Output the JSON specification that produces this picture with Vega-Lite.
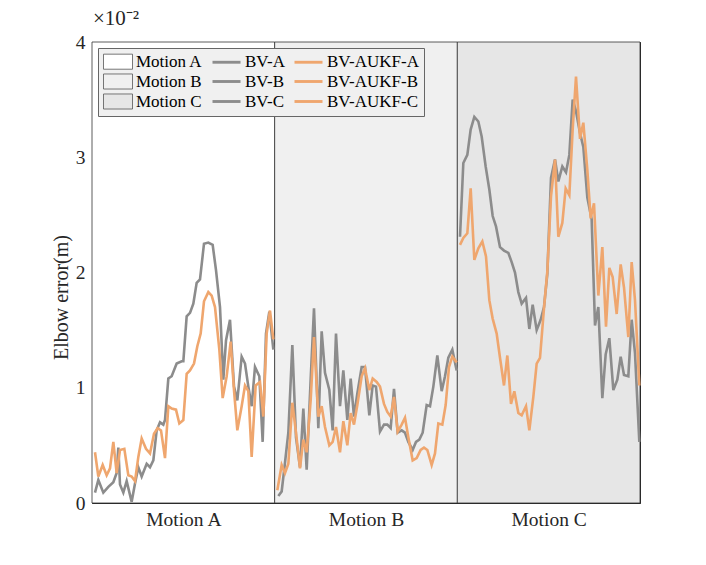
{
  "$schema": "https://vega.github.io/schema/vega-lite/v6.json",
  "width": 548,
  "height": 461,
  "autosize": {"type": "none"},
  "padding": {"left": 92, "top": 42, "right": 66, "bottom": 62},
  "background": "white",
  "title": {
    "text": "×10⁻²",
    "anchor": "start",
    "frame": "group",
    "font": "Liberation Serif",
    "fontSize": 21,
    "fontWeight": "normal",
    "color": "#262626",
    "offset": 3,
    "dx": 1
  },
  "config": {
    "font": "Liberation Serif",
    "view": {"stroke": null},
    "axis": {
      "domainColor": "#262626",
      "tickColor": "#262626",
      "tickSize": -5,
      "zindex": 1,
      "grid": false,
      "labelFont": "Liberation Serif",
      "labelFontSize": 19.5,
      "labelColor": "#262626",
      "labelPadding": 12,
      "titleFont": "Liberation Serif",
      "titleFontSize": 20,
      "titleFontWeight": "normal",
      "titleColor": "#262626"
    }
  },
  "datasets": {
    "regions": [
      {"start": 0, "end": 548, "series": "Motion A"},
      {"start": 548, "end": 1096, "series": "Motion B"},
      {"start": 1096, "end": 1644, "series": "Motion C"}
    ],
    "errors": [
      {"t": 9, "series": "BV-A", "value": 0.09}, {"t": 19, "series": "BV-A", "value": 0.2}, {"t": 34, "series": "BV-A", "value": 0.09},
      {"t": 49, "series": "BV-A", "value": 0.14}, {"t": 64, "series": "BV-A", "value": 0.18}, {"t": 74, "series": "BV-A", "value": 0.26},
      {"t": 79, "series": "BV-A", "value": 0.48}, {"t": 84, "series": "BV-A", "value": 0.16}, {"t": 94, "series": "BV-A", "value": 0.09},
      {"t": 104, "series": "BV-A", "value": 0.19}, {"t": 119, "series": "BV-A", "value": 0.01}, {"t": 129, "series": "BV-A", "value": 0.17},
      {"t": 139, "series": "BV-A", "value": 0.31}, {"t": 149, "series": "BV-A", "value": 0.23}, {"t": 164, "series": "BV-A", "value": 0.34},
      {"t": 174, "series": "BV-A", "value": 0.31}, {"t": 184, "series": "BV-A", "value": 0.37}, {"t": 194, "series": "BV-A", "value": 0.63},
      {"t": 204, "series": "BV-A", "value": 0.7}, {"t": 214, "series": "BV-A", "value": 0.68}, {"t": 219, "series": "BV-A", "value": 0.72},
      {"t": 229, "series": "BV-A", "value": 1.08}, {"t": 239, "series": "BV-A", "value": 1.1}, {"t": 254, "series": "BV-A", "value": 1.21},
      {"t": 269, "series": "BV-A", "value": 1.23}, {"t": 274, "series": "BV-A", "value": 1.23}, {"t": 284, "series": "BV-A", "value": 1.62},
      {"t": 294, "series": "BV-A", "value": 1.65}, {"t": 304, "series": "BV-A", "value": 1.73}, {"t": 314, "series": "BV-A", "value": 1.91},
      {"t": 324, "series": "BV-A", "value": 1.94}, {"t": 336, "series": "BV-A", "value": 2.25}, {"t": 349, "series": "BV-A", "value": 2.26},
      {"t": 362, "series": "BV-A", "value": 2.24}, {"t": 372, "series": "BV-A", "value": 2.02}, {"t": 384, "series": "BV-A", "value": 1.7},
      {"t": 394, "series": "BV-A", "value": 1.07}, {"t": 402, "series": "BV-A", "value": 1.41}, {"t": 414, "series": "BV-A", "value": 1.59},
      {"t": 426, "series": "BV-A", "value": 1.01}, {"t": 436, "series": "BV-A", "value": 0.89}, {"t": 449, "series": "BV-A", "value": 1.27},
      {"t": 459, "series": "BV-A", "value": 1.21}, {"t": 469, "series": "BV-A", "value": 1.01}, {"t": 479, "series": "BV-A", "value": 0.84},
      {"t": 489, "series": "BV-A", "value": 1.18}, {"t": 502, "series": "BV-A", "value": 1.1}, {"t": 512, "series": "BV-A", "value": 0.53},
      {"t": 522, "series": "BV-A", "value": 1.47}, {"t": 532, "series": "BV-A", "value": 1.66}, {"t": 544, "series": "BV-A", "value": 1.33},

      {"t": 9, "series": "BV-AUKF-A", "value": 0.44}, {"t": 19, "series": "BV-AUKF-A", "value": 0.23}, {"t": 32, "series": "BV-AUKF-A", "value": 0.33},
      {"t": 44, "series": "BV-AUKF-A", "value": 0.24}, {"t": 54, "series": "BV-AUKF-A", "value": 0.3}, {"t": 64, "series": "BV-AUKF-A", "value": 0.53},
      {"t": 74, "series": "BV-AUKF-A", "value": 0.26}, {"t": 84, "series": "BV-AUKF-A", "value": 0.46}, {"t": 97, "series": "BV-AUKF-A", "value": 0.47},
      {"t": 109, "series": "BV-AUKF-A", "value": 0.24}, {"t": 119, "series": "BV-AUKF-A", "value": 0.23}, {"t": 129, "series": "BV-AUKF-A", "value": 0.19},
      {"t": 139, "series": "BV-AUKF-A", "value": 0.4}, {"t": 149, "series": "BV-AUKF-A", "value": 0.56}, {"t": 162, "series": "BV-AUKF-A", "value": 0.47},
      {"t": 174, "series": "BV-AUKF-A", "value": 0.43}, {"t": 186, "series": "BV-AUKF-A", "value": 0.6}, {"t": 197, "series": "BV-AUKF-A", "value": 0.65},
      {"t": 207, "series": "BV-AUKF-A", "value": 0.63}, {"t": 219, "series": "BV-AUKF-A", "value": 0.39}, {"t": 229, "series": "BV-AUKF-A", "value": 0.84},
      {"t": 239, "series": "BV-AUKF-A", "value": 0.82}, {"t": 252, "series": "BV-AUKF-A", "value": 0.81}, {"t": 262, "series": "BV-AUKF-A", "value": 0.69},
      {"t": 274, "series": "BV-AUKF-A", "value": 0.72}, {"t": 284, "series": "BV-AUKF-A", "value": 1.12}, {"t": 294, "series": "BV-AUKF-A", "value": 1.15},
      {"t": 306, "series": "BV-AUKF-A", "value": 1.21}, {"t": 316, "series": "BV-AUKF-A", "value": 1.36}, {"t": 326, "series": "BV-AUKF-A", "value": 1.47},
      {"t": 336, "series": "BV-AUKF-A", "value": 1.75}, {"t": 349, "series": "BV-AUKF-A", "value": 1.83}, {"t": 359, "series": "BV-AUKF-A", "value": 1.8},
      {"t": 369, "series": "BV-AUKF-A", "value": 1.7}, {"t": 382, "series": "BV-AUKF-A", "value": 1.33}, {"t": 392, "series": "BV-AUKF-A", "value": 0.91},
      {"t": 404, "series": "BV-AUKF-A", "value": 1.1}, {"t": 416, "series": "BV-AUKF-A", "value": 1.4}, {"t": 426, "series": "BV-AUKF-A", "value": 0.98},
      {"t": 436, "series": "BV-AUKF-A", "value": 0.63}, {"t": 449, "series": "BV-AUKF-A", "value": 0.84}, {"t": 459, "series": "BV-AUKF-A", "value": 1.02},
      {"t": 469, "series": "BV-AUKF-A", "value": 0.97}, {"t": 479, "series": "BV-AUKF-A", "value": 0.4}, {"t": 491, "series": "BV-AUKF-A", "value": 1.02},
      {"t": 504, "series": "BV-AUKF-A", "value": 1.05}, {"t": 514, "series": "BV-AUKF-A", "value": 0.75}, {"t": 524, "series": "BV-AUKF-A", "value": 1.47},
      {"t": 534, "series": "BV-AUKF-A", "value": 1.67}, {"t": 544, "series": "BV-AUKF-A", "value": 1.42},

      {"t": 559, "series": "BV-B", "value": 0.06}, {"t": 569, "series": "BV-B", "value": 0.1}, {"t": 579, "series": "BV-B", "value": 0.35},
      {"t": 589, "series": "BV-B", "value": 0.61}, {"t": 601, "series": "BV-B", "value": 1.37}, {"t": 612, "series": "BV-B", "value": 0.57},
      {"t": 624, "series": "BV-B", "value": 0.31}, {"t": 634, "series": "BV-B", "value": 0.82}, {"t": 644, "series": "BV-B", "value": 0.29},
      {"t": 656, "series": "BV-B", "value": 1.07}, {"t": 666, "series": "BV-B", "value": 1.69}, {"t": 679, "series": "BV-B", "value": 0.65},
      {"t": 689, "series": "BV-B", "value": 1.49}, {"t": 699, "series": "BV-B", "value": 1.13}, {"t": 712, "series": "BV-B", "value": 0.98},
      {"t": 722, "series": "BV-B", "value": 0.63}, {"t": 732, "series": "BV-B", "value": 1.47}, {"t": 744, "series": "BV-B", "value": 0.84},
      {"t": 754, "series": "BV-B", "value": 1.15}, {"t": 766, "series": "BV-B", "value": 0.72}, {"t": 776, "series": "BV-B", "value": 1.08},
      {"t": 786, "series": "BV-B", "value": 0.75}, {"t": 796, "series": "BV-B", "value": 0.95}, {"t": 809, "series": "BV-B", "value": 1.18},
      {"t": 819, "series": "BV-B", "value": 1.18}, {"t": 832, "series": "BV-B", "value": 0.76}, {"t": 842, "series": "BV-B", "value": 1.02},
      {"t": 852, "series": "BV-B", "value": 1.01}, {"t": 864, "series": "BV-B", "value": 0.62}, {"t": 876, "series": "BV-B", "value": 0.68},
      {"t": 886, "series": "BV-B", "value": 0.68}, {"t": 896, "series": "BV-B", "value": 0.65}, {"t": 906, "series": "BV-B", "value": 0.99},
      {"t": 917, "series": "BV-B", "value": 0.61}, {"t": 929, "series": "BV-B", "value": 0.63}, {"t": 939, "series": "BV-B", "value": 0.61},
      {"t": 949, "series": "BV-B", "value": 0.53}, {"t": 962, "series": "BV-B", "value": 0.46}, {"t": 972, "series": "BV-B", "value": 0.53},
      {"t": 982, "series": "BV-B", "value": 0.55}, {"t": 992, "series": "BV-B", "value": 0.61}, {"t": 1004, "series": "BV-B", "value": 0.85},
      {"t": 1014, "series": "BV-B", "value": 0.84}, {"t": 1024, "series": "BV-B", "value": 1.01}, {"t": 1036, "series": "BV-B", "value": 1.28},
      {"t": 1049, "series": "BV-B", "value": 0.97}, {"t": 1059, "series": "BV-B", "value": 1.1}, {"t": 1069, "series": "BV-B", "value": 1.26},
      {"t": 1081, "series": "BV-B", "value": 1.33}, {"t": 1094, "series": "BV-B", "value": 1.15},

      {"t": 556, "series": "BV-AUKF-B", "value": 0.11}, {"t": 569, "series": "BV-AUKF-B", "value": 0.33}, {"t": 579, "series": "BV-AUKF-B", "value": 0.26},
      {"t": 589, "series": "BV-AUKF-B", "value": 0.34}, {"t": 601, "series": "BV-AUKF-B", "value": 0.87}, {"t": 612, "series": "BV-AUKF-B", "value": 0.61},
      {"t": 624, "series": "BV-AUKF-B", "value": 0.3}, {"t": 634, "series": "BV-AUKF-B", "value": 0.55}, {"t": 644, "series": "BV-AUKF-B", "value": 0.44},
      {"t": 656, "series": "BV-AUKF-B", "value": 0.89}, {"t": 666, "series": "BV-AUKF-B", "value": 1.44}, {"t": 679, "series": "BV-AUKF-B", "value": 0.75},
      {"t": 689, "series": "BV-AUKF-B", "value": 0.84}, {"t": 699, "series": "BV-AUKF-B", "value": 0.66}, {"t": 712, "series": "BV-AUKF-B", "value": 0.5},
      {"t": 722, "series": "BV-AUKF-B", "value": 0.53}, {"t": 732, "series": "BV-AUKF-B", "value": 0.66}, {"t": 744, "series": "BV-AUKF-B", "value": 0.44},
      {"t": 754, "series": "BV-AUKF-B", "value": 0.71}, {"t": 766, "series": "BV-AUKF-B", "value": 0.5}, {"t": 776, "series": "BV-AUKF-B", "value": 0.78},
      {"t": 786, "series": "BV-AUKF-B", "value": 0.68}, {"t": 796, "series": "BV-AUKF-B", "value": 0.85}, {"t": 809, "series": "BV-AUKF-B", "value": 1.1},
      {"t": 819, "series": "BV-AUKF-B", "value": 1.17}, {"t": 832, "series": "BV-AUKF-B", "value": 0.98}, {"t": 842, "series": "BV-AUKF-B", "value": 1.08},
      {"t": 854, "series": "BV-AUKF-B", "value": 1.05}, {"t": 864, "series": "BV-AUKF-B", "value": 1.01}, {"t": 876, "series": "BV-AUKF-B", "value": 0.86},
      {"t": 886, "series": "BV-AUKF-B", "value": 0.79}, {"t": 896, "series": "BV-AUKF-B", "value": 0.75}, {"t": 906, "series": "BV-AUKF-B", "value": 0.92},
      {"t": 917, "series": "BV-AUKF-B", "value": 0.62}, {"t": 929, "series": "BV-AUKF-B", "value": 0.68}, {"t": 939, "series": "BV-AUKF-B", "value": 0.74},
      {"t": 949, "series": "BV-AUKF-B", "value": 0.57}, {"t": 962, "series": "BV-AUKF-B", "value": 0.37}, {"t": 974, "series": "BV-AUKF-B", "value": 0.39},
      {"t": 986, "series": "BV-AUKF-B", "value": 0.46}, {"t": 996, "series": "BV-AUKF-B", "value": 0.48}, {"t": 1006, "series": "BV-AUKF-B", "value": 0.46},
      {"t": 1019, "series": "BV-AUKF-B", "value": 0.33}, {"t": 1029, "series": "BV-AUKF-B", "value": 0.43}, {"t": 1039, "series": "BV-AUKF-B", "value": 0.69},
      {"t": 1051, "series": "BV-AUKF-B", "value": 0.68}, {"t": 1061, "series": "BV-AUKF-B", "value": 0.85}, {"t": 1071, "series": "BV-AUKF-B", "value": 1.18},
      {"t": 1081, "series": "BV-AUKF-B", "value": 1.27}, {"t": 1094, "series": "BV-AUKF-B", "value": 1.22},

      {"t": 1104, "series": "BV-C", "value": 2.31}, {"t": 1114, "series": "BV-C", "value": 2.95}, {"t": 1126, "series": "BV-C", "value": 3.02},
      {"t": 1136, "series": "BV-C", "value": 3.24}, {"t": 1147, "series": "BV-C", "value": 3.35}, {"t": 1159, "series": "BV-C", "value": 3.31},
      {"t": 1169, "series": "BV-C", "value": 3.18}, {"t": 1181, "series": "BV-C", "value": 2.92}, {"t": 1192, "series": "BV-C", "value": 2.72},
      {"t": 1202, "series": "BV-C", "value": 2.49}, {"t": 1212, "series": "BV-C", "value": 2.4}, {"t": 1224, "series": "BV-C", "value": 2.22},
      {"t": 1236, "series": "BV-C", "value": 2.19}, {"t": 1249, "series": "BV-C", "value": 2.17}, {"t": 1259, "series": "BV-C", "value": 2.09},
      {"t": 1269, "series": "BV-C", "value": 2.0}, {"t": 1279, "series": "BV-C", "value": 1.83}, {"t": 1289, "series": "BV-C", "value": 1.73},
      {"t": 1302, "series": "BV-C", "value": 1.78}, {"t": 1312, "series": "BV-C", "value": 1.51}, {"t": 1322, "series": "BV-C", "value": 1.72},
      {"t": 1334, "series": "BV-C", "value": 1.5}, {"t": 1346, "series": "BV-C", "value": 1.59}, {"t": 1356, "series": "BV-C", "value": 1.7},
      {"t": 1366, "series": "BV-C", "value": 1.99}, {"t": 1377, "series": "BV-C", "value": 2.82}, {"t": 1389, "series": "BV-C", "value": 2.98},
      {"t": 1399, "series": "BV-C", "value": 2.79}, {"t": 1411, "series": "BV-C", "value": 2.92}, {"t": 1422, "series": "BV-C", "value": 2.87},
      {"t": 1432, "series": "BV-C", "value": 3.02}, {"t": 1442, "series": "BV-C", "value": 3.5}, {"t": 1452, "series": "BV-C", "value": 3.4},
      {"t": 1464, "series": "BV-C", "value": 3.21}, {"t": 1474, "series": "BV-C", "value": 3.09}, {"t": 1486, "series": "BV-C", "value": 2.65},
      {"t": 1499, "series": "BV-C", "value": 2.46}, {"t": 1509, "series": "BV-C", "value": 1.54}, {"t": 1519, "series": "BV-C", "value": 1.7},
      {"t": 1531, "series": "BV-C", "value": 0.91}, {"t": 1541, "series": "BV-C", "value": 1.29}, {"t": 1552, "series": "BV-C", "value": 1.43},
      {"t": 1564, "series": "BV-C", "value": 0.98}, {"t": 1576, "series": "BV-C", "value": 1.07}, {"t": 1586, "series": "BV-C", "value": 1.27},
      {"t": 1596, "series": "BV-C", "value": 1.11}, {"t": 1609, "series": "BV-C", "value": 1.1}, {"t": 1619, "series": "BV-C", "value": 1.59},
      {"t": 1629, "series": "BV-C", "value": 1.3}, {"t": 1642, "series": "BV-C", "value": 0.53},

      {"t": 1104, "series": "BV-AUKF-C", "value": 2.24}, {"t": 1114, "series": "BV-AUKF-C", "value": 2.3}, {"t": 1126, "series": "BV-AUKF-C", "value": 2.34},
      {"t": 1136, "series": "BV-AUKF-C", "value": 2.73}, {"t": 1147, "series": "BV-AUKF-C", "value": 2.11}, {"t": 1159, "series": "BV-AUKF-C", "value": 2.21},
      {"t": 1171, "series": "BV-AUKF-C", "value": 2.27}, {"t": 1182, "series": "BV-AUKF-C", "value": 2.14}, {"t": 1192, "series": "BV-AUKF-C", "value": 1.76},
      {"t": 1202, "series": "BV-AUKF-C", "value": 1.6}, {"t": 1214, "series": "BV-AUKF-C", "value": 1.47}, {"t": 1224, "series": "BV-AUKF-C", "value": 1.26},
      {"t": 1236, "series": "BV-AUKF-C", "value": 1.02}, {"t": 1246, "series": "BV-AUKF-C", "value": 1.28}, {"t": 1257, "series": "BV-AUKF-C", "value": 0.86},
      {"t": 1267, "series": "BV-AUKF-C", "value": 0.97}, {"t": 1279, "series": "BV-AUKF-C", "value": 0.78}, {"t": 1289, "series": "BV-AUKF-C", "value": 0.76},
      {"t": 1302, "series": "BV-AUKF-C", "value": 0.84}, {"t": 1312, "series": "BV-AUKF-C", "value": 0.63}, {"t": 1324, "series": "BV-AUKF-C", "value": 0.92},
      {"t": 1334, "series": "BV-AUKF-C", "value": 1.21}, {"t": 1344, "series": "BV-AUKF-C", "value": 1.26}, {"t": 1356, "series": "BV-AUKF-C", "value": 1.69},
      {"t": 1366, "series": "BV-AUKF-C", "value": 2.01}, {"t": 1377, "series": "BV-AUKF-C", "value": 2.66}, {"t": 1389, "series": "BV-AUKF-C", "value": 2.98},
      {"t": 1399, "series": "BV-AUKF-C", "value": 2.31}, {"t": 1411, "series": "BV-AUKF-C", "value": 2.43}, {"t": 1421, "series": "BV-AUKF-C", "value": 2.73},
      {"t": 1432, "series": "BV-AUKF-C", "value": 2.67}, {"t": 1442, "series": "BV-AUKF-C", "value": 3.24}, {"t": 1452, "series": "BV-AUKF-C", "value": 3.7},
      {"t": 1464, "series": "BV-AUKF-C", "value": 3.16}, {"t": 1474, "series": "BV-AUKF-C", "value": 3.3}, {"t": 1486, "series": "BV-AUKF-C", "value": 2.89},
      {"t": 1496, "series": "BV-AUKF-C", "value": 2.47}, {"t": 1506, "series": "BV-AUKF-C", "value": 2.6}, {"t": 1519, "series": "BV-AUKF-C", "value": 1.8},
      {"t": 1531, "series": "BV-AUKF-C", "value": 2.22}, {"t": 1542, "series": "BV-AUKF-C", "value": 1.53}, {"t": 1552, "series": "BV-AUKF-C", "value": 2.04},
      {"t": 1562, "series": "BV-AUKF-C", "value": 1.96}, {"t": 1574, "series": "BV-AUKF-C", "value": 1.64}, {"t": 1586, "series": "BV-AUKF-C", "value": 2.07},
      {"t": 1596, "series": "BV-AUKF-C", "value": 1.87}, {"t": 1609, "series": "BV-AUKF-C", "value": 1.44}, {"t": 1619, "series": "BV-AUKF-C", "value": 2.09},
      {"t": 1629, "series": "BV-AUKF-C", "value": 1.76}, {"t": 1642, "series": "BV-AUKF-C", "value": 1.02}
    ]
  },
  "layer": [
    {
      "data": {"name": "regions"},
      "mark": {"type": "rect", "stroke": "#333333", "strokeWidth": 0.8},
      "encoding": {
        "x": {
          "field": "start",
          "type": "quantitative",
          "scale": {"domain": [0, 1644], "nice": false},
          "axis": {
            "orient": "bottom",
            "values": [274, 822, 1370],
            "labelExpr": "datum.value == 274 ? 'Motion A' : datum.value == 822 ? 'Motion B' : 'Motion C'",
            "labelFlush": false,
            "title": null
          }
        },
        "x2": {"field": "end"},
        "color": {
          "field": "series",
          "type": "nominal",
          "scale": {
            "domain": ["Motion A", "Motion B", "Motion C", "BV-A", "BV-B", "BV-C", "BV-AUKF-A", "BV-AUKF-B", "BV-AUKF-C"],
            "range": ["#ffffff", "#f0f0f0", "#e6e6e6", "#8c8c8c", "#8c8c8c", "#8c8c8c", "#efa66e", "#efa66e", "#efa66e"]
          },
          "legend": {
            "orient": "none",
            "legendX": 6,
            "legendY": 6,
            "columns": 3,
            "columnPadding": 7,
            "rowPadding": 1,
            "title": null,
            "fillColor": "#f0f0f0",
            "strokeColor": "#666666",
            "padding": 5,
            "labelFont": "Liberation Serif",
            "labelFontSize": 17,
            "labelColor": "#000000",
            "labelOffset": 16,
            "symbolSize": 256,
            "symbolStrokeWidth": 0.8,
            "symbolType": {"expr": "indexof(datum.value, 'Motion') == 0 ? 'M-1,-0.94H2.625V0.94H-1Z' : 'M-1,-0.18H2.5V0.18H-1Z'"},
            "symbolStrokeColor": {"expr": "indexof(datum.value, 'Motion') == 0 ? '#555555' : 'transparent'"}
          }
        }
      }
    },
    {
      "data": {"name": "errors"},
      "mark": {"type": "line", "strokeWidth": 2.6},
      "encoding": {
        "x": {"field": "t", "type": "quantitative", "axis": null},
        "y": {
          "field": "value",
          "type": "quantitative",
          "scale": {"domain": [0, 4], "nice": false},
          "axis": {
            "orient": "left",
            "values": [0, 1, 2, 3, 4],
            "format": "d",
            "title": "Elbow error(m)",
            "titleAngle": -90,
            "titleBaseline": "middle",
            "titleX": -31,
            "titleY": 255
          }
        },
        "detail": {"field": "series", "type": "nominal"},
        "color": {
          "condition": {"test": "indexof(datum.series, 'AUKF') >= 0", "value": "#efa66e"},
          "value": "#8c8c8c"
        }
      }
    },
    {
      "data": {"name": "errors"},
      "mark": {"type": "point", "opacity": 0},
      "encoding": {
        "x": {
          "field": "t",
          "type": "quantitative",
          "axis": {"orient": "top", "values": [274, 822, 1370], "labels": false, "title": null}
        },
        "y": {
          "field": "value",
          "type": "quantitative",
          "axis": {"orient": "right", "values": [0, 1, 2, 3, 4], "labels": false, "title": null}
        }
      }
    }
  ],
  "resolve": {"axis": {"x": "independent", "y": "independent"}}
}
